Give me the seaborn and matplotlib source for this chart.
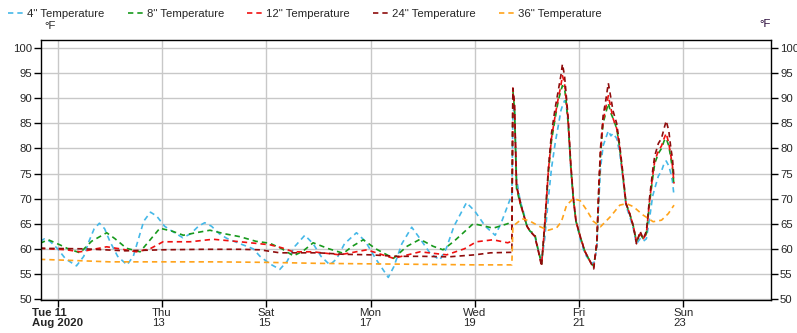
import matplotlib
matplotlib.use("Agg")
import matplotlib.pyplot as plt
from matplotlib.lines import Line2D
import pandas as pd
import seaborn as sns

# ---------------- data (days since 2020-08-11 00:00, °F) ----------------
series_names = ['4" Temperature', '8" Temperature', '12" Temperature',
                '24" Temperature', '36" Temperature']

t_4in_pre = [-0.34, -0.25, -0.15, 0.0, 0.15, 0.36, 0.5, 0.6, 0.7, 0.8, 0.9, 1.0, 1.15,
             1.33, 1.45, 1.55, 1.65, 1.78, 1.9, 2.05, 2.21, 2.40, 2.55, 2.7, 2.82, 2.95,
             3.1, 3.24, 3.5, 3.75, 3.88, 4.07, 4.26, 4.40, 4.55, 4.74, 4.90, 5.05, 5.22,
             5.35, 5.5, 5.73, 5.9, 6.1, 6.34, 6.45, 6.6, 6.79, 6.95, 7.15, 7.33, 7.45,
             7.6, 7.84, 8.0, 8.2, 8.39, 8.5, 8.67, 8.71]
v_4in_pre = [61.5, 62, 61.5, 60, 58, 56.6, 58.5, 61.5, 64, 65.1, 64, 61.5, 58.5,
             56.8, 58.5, 62, 65.5, 67.3, 66.5, 64.5, 63.4, 62.2, 63, 64.5, 65.2, 64.5,
             63, 62.1, 61, 60, 58.5, 57, 55.9, 57.5, 60.5, 62.7, 61, 58.5, 56.8,
             58, 61, 63.2, 61.5, 58, 54.3, 56.5, 61, 64.3, 62, 59, 57.8, 60,
             64.5, 69.2, 67.5, 64.5, 62.7, 65, 69.7, 70.5]

t_8in_pre = [-0.34, -0.18, 0.04, 0.2, 0.43, 0.65, 0.94, 1.1, 1.32, 1.58, 1.75, 1.96, 2.2,
             2.41, 2.65, 2.92, 3.2, 3.5, 3.8, 4.07, 4.3, 4.52, 4.7, 4.90, 5.2, 5.48,
             5.65, 5.86, 6.1, 6.44, 6.7, 6.95, 7.2, 7.39, 7.6, 7.97, 8.2, 8.35, 8.63, 8.71]
v_8in_pre = [61.1, 61.8, 60.8, 60, 59.2, 61.5, 63.2, 62, 60.1, 59.4, 61.5, 64.1, 63.5,
             62.7, 63.2, 63.7, 63, 62.4, 61.5, 61.1, 60, 58.6, 59.5, 61.2, 60, 59.1,
             60.5, 61.8, 60, 58.1, 60.5, 61.9, 60.5, 59.8, 61.5, 65, 64.5, 64.1, 65, 65.5]

t_12in_pre = [-0.34, 0.17, 0.43, 0.94, 1.19, 1.51, 1.77, 2.02, 2.54, 2.98, 3.50, 4.07,
              4.3, 4.52, 4.90, 5.41, 5.93, 6.44, 6.95, 7.46, 7.8, 8.03, 8.35, 8.63, 8.71]
v_12in_pre = [60.1, 59.8, 59.4, 60.4, 60, 59.4, 60, 61.4, 61.4, 61.9, 61.4, 60.8,
              60.2, 59.4, 59.4, 58.8, 59.8, 58.1, 59.4, 58.8, 60, 61.4, 61.8, 61.2, 61.5]

t_24in_pre = [-0.34, 0.5, 1.3, 2.0, 2.8, 3.5, 3.88, 4.26, 5.0, 5.5, 6.0, 6.5, 7.0,
              7.5, 8.0, 8.3, 8.71]
v_24in_pre = [60.1, 60, 59.6, 59.8, 59.9, 59.9, 59.8, 59.2, 59.2, 58.9, 58.8, 58.5, 58.5,
              58.4, 58.8, 59.2, 59.3]

t_post = [8.73, 8.76, 8.80, 8.87, 8.93, 9.00, 9.06, 9.15, 9.22, 9.28, 9.34, 9.41, 9.47,
          9.54, 9.60, 9.65, 9.68, 9.72, 9.75, 9.79, 9.84, 9.89, 9.94, 10.02, 10.11, 10.21,
          10.28, 10.34, 10.38, 10.41, 10.46, 10.51, 10.56, 10.61, 10.65, 10.72, 10.78,
          10.84, 10.90, 10.97, 11.04, 11.10, 11.17, 11.23, 11.29, 11.35, 11.41, 11.45,
          11.52, 11.58, 11.63, 11.67, 11.72, 11.76, 11.79, 11.82]
v_4in_post = [87, 88.5, 74, 69.5, 67.5, 64.5, 63.5, 62.5, 59.5, 57.5, 62, 70, 76,
              81, 84.5, 87.5, 88.5, 89.5, 89, 85, 76, 69.5, 65.5, 62, 59, 57.5,
              57, 60, 70, 76, 80.5, 82, 83.5, 82.5, 83, 82, 79,
              74, 68.5, 66.5, 64, 61, 62, 61.5, 62, 66, 70.5, 72,
              74.5, 75.5, 77, 77.5, 76.5, 75, 73.5, 70.5]
v_8in_post = [91.5, 88, 72, 69, 67, 64.5, 63.5, 63, 59.5, 57, 64.5, 75, 81.5,
              86, 89.5, 91.5, 92.5, 92, 89.5, 85, 76.5, 70, 65.5, 62.5, 59.5, 57.5,
              56.5, 61, 72, 78.5, 85, 87, 89, 87, 86, 84, 80,
              74.5, 69, 67, 64.5, 61.5, 63, 62, 63, 69, 74, 77,
              79, 80, 81.5, 82, 80.5, 78, 76, 72.5]
v_12in_post = [92, 88.5, 72.5, 69, 67, 64.5, 63.5, 62.5, 59.5, 56.8, 64.5, 75.5, 82,
               86.5, 90, 92.5, 94.5, 93, 90, 85.5, 76.5, 70, 65.5, 62.5, 59.5, 57.5,
               56.3, 61, 72.5, 79, 85.5, 88, 90.5, 88, 86, 84, 80,
               74.5, 69, 67, 64.5, 61.5, 63, 62, 63, 69.5, 74.5, 77.5,
               79.5, 80.5, 82, 83, 81, 78.5, 76.5, 73]
v_24in_post = [92, 89, 72.5, 69.5, 67, 64.5, 63.5, 62.5, 59.5, 56.5, 65, 76, 83,
               88, 91.5, 94.5, 96.8, 94.5, 91, 86, 77, 70, 65.5, 62.5, 59.5, 57.5,
               56, 61.5, 73, 80, 86.5, 89.5, 93, 90, 87.5, 85, 80.5,
               75, 69, 67, 64.5, 61, 63.5, 62, 63.5, 70, 75.5, 78.5,
               81, 82, 84, 85.5, 83.5, 80, 78, 74]

t_36in = [-0.34, 0.5, 1.0, 2.0, 3.0, 4.0, 5.0, 6.0, 7.0, 8.0, 8.71, 8.73, 8.91, 9.06,
          9.25, 9.41, 9.57, 9.66, 9.76, 9.89, 10.02, 10.14, 10.27, 10.41, 10.6, 10.78,
          10.91, 11.04, 11.23, 11.42, 11.58, 11.71, 11.82]
v_36in = [57.9, 57.6, 57.4, 57.4, 57.4, 57.3, 57.1, 57.0, 56.9, 56.8, 56.8, 64.5, 66, 65.5,
          64.4, 63.7, 64.2, 65.4, 68.7, 70, 69.6, 67.8, 65.5, 64.4, 66.4, 68.7,
          69, 68.4, 66.7, 65.4, 65.7, 67, 68.7]

tick_days = [0, 2, 4, 6, 8, 10, 12]
tick_labels = ["Tue 11\nAug 2020", "Thu\n13", "Sat\n15", "Mon\n17", "Wed\n19", "Fri\n21", "Sun\n23"]
y_ticks = [50, 55, 60, 65, 70, 75, 80, 85, 90, 95, 100]

colors = ["#45b8e8", "#17991c", "#f01010", "#8e0c0c", "#ffa31a"]

# ---------------- build table ----------------
start = pd.Timestamp("2020-08-11")
parts = [
    (series_names[0], t_4in_pre + t_post, v_4in_pre + v_4in_post),
    (series_names[1], t_8in_pre + t_post, v_8in_pre + v_8in_post),
    (series_names[2], t_12in_pre + t_post, v_12in_pre + v_12in_post),
    (series_names[3], t_24in_pre + t_post, v_24in_pre + v_24in_post),
    (series_names[4], t_36in, v_36in),
]
frames = []
for name, t, v in parts:
    assert len(t) == len(v), name
    frames.append(pd.DataFrame({
        "time": start + pd.to_timedelta(t, unit="D"),
        "temp": v,
        "series": name,
    }))
df = pd.concat(frames, ignore_index=True)

# ---------------- plot ----------------
sns.set_style("white")
plt.rcParams["font.family"] = ["Liberation Sans", "DejaVu Sans"]
plt.rcParams["font.size"] = 8.2

fig = plt.figure(figsize=(7.97, 3.33), dpi=100)
ax = fig.add_axes([41 / 797, 1 - 300 / 333, (771 - 41) / 797, (300 - 40) / 333])

dash = (3.2, 2.4)
palette = dict(zip(series_names, colors))
sns.lineplot(data=df, x="time", y="temp", hue="series", style="series",
             palette=palette, dashes={n: dash for n in series_names},
             estimator=None, sort=False, linewidth=1.2, legend=False, ax=ax)

ax.set_xlim(start + pd.Timedelta(days=-0.32), start + pd.Timedelta(days=13.68))
ax.set_ylim(49.8, 101.6)
ax.set_xticks([start + pd.Timedelta(days=d) for d in tick_days])
ax.set_xticklabels(tick_labels, ha="center", multialignment="left")
for lab in ax.get_xticklabels():
    lab.set_linespacing(1.05)
ax.get_xticklabels()[0].set_fontweight("bold")
ax.set_yticks(y_ticks)
ax.set_xlabel("")
ax.set_ylabel("")
ax.grid(True, color="#c8c8c8", linewidth=1.0)
ax.set_axisbelow(True)
for s in ax.spines.values():
    s.set_color("black")
    s.set_linewidth(1.0)
ax.tick_params(axis="both", which="major", direction="out", length=5, width=1,
               color="black", labelsize=8.2, pad=1.5)
ax.tick_params(axis="y", right=True, labelright=True, left=True, labelleft=True)
ax.tick_params(axis="x", bottom=True, pad=0.5)

fig.text(50 / 797, 1 - 26 / 333, "°F", ha="center", va="center", fontsize=8.2)
fig.text(765 / 797, 1 - 24 / 333, "°F", ha="center", va="center", fontsize=8.2,
         color="#2a0a3a")

handles = [Line2D([0], [0], color=c, linewidth=1.2, dashes=dash) for c in colors]
fig.legend(handles, series_names, loc="center left", bbox_to_anchor=(8 / 797, 1 - 14 / 333),
           ncol=5, frameon=False, handlelength=1.35, handletextpad=0.35,
           columnspacing=2.0, fontsize=8.2, borderaxespad=0, borderpad=0.0)

fig.savefig("out.png", dpi=100)
